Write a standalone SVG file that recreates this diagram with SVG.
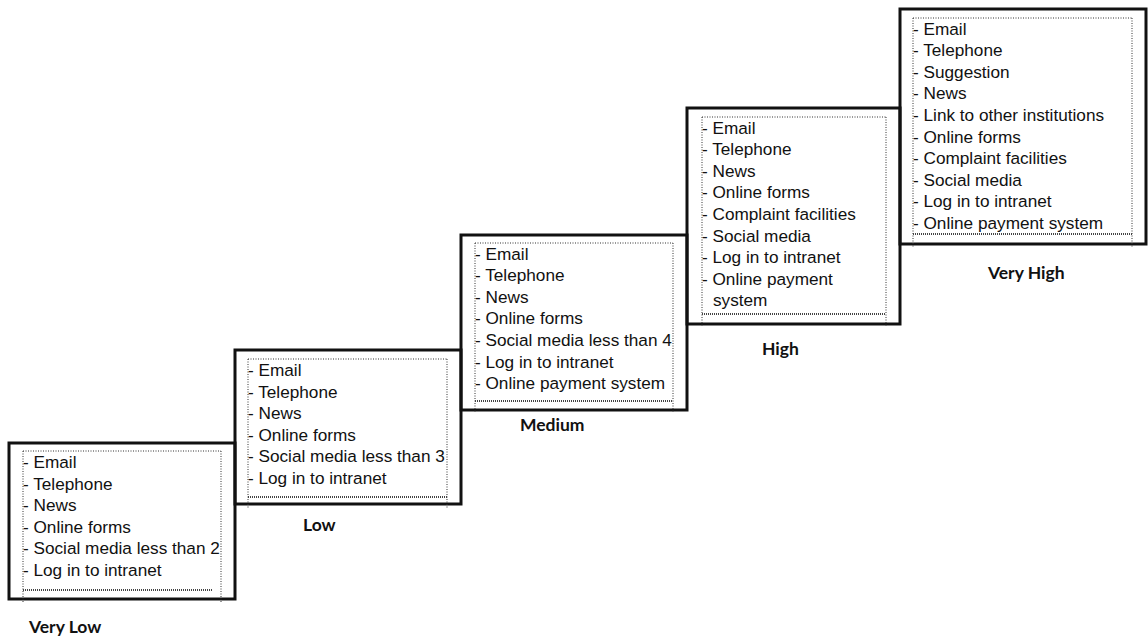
<svg xmlns="http://www.w3.org/2000/svg" width="1148" height="636" viewBox="0 0 1148 636">
<style>
.outer{fill:none;stroke:#111;stroke-width:3}
.dot{fill:none;stroke:#333;stroke-width:1;stroke-dasharray:1 1.5}
.dotb{fill:none;stroke:#444;stroke-width:2;stroke-dasharray:1 1}
.item{font-family:"Liberation Sans",Arial,sans-serif;font-size:17.2px;fill:#111}
.lbl{font-family:Lato,"Open Sans",sans-serif;font-weight:bold;font-size:17.5px;fill:#111}
</style>
<rect width="1148" height="636" fill="#fff"/>
<g id="very-low">
<rect class="outer" x="9" y="443" width="226" height="156"/>
<path class="dot" d="M23 451H221M23 451V603M221 451V603"/>
<path class="dotb" d="M23 590H212"/>
<text class="item" x="23" y="468">- Email</text>
<text class="item" x="23" y="489.6">- Telephone</text>
<text class="item" x="23" y="511.2">- News</text>
<text class="item" x="23" y="532.8">- Online forms</text>
<text class="item" x="23" y="554.4">- Social media less than 2</text>
<text class="item" x="23" y="576">- Log in to intranet</text>
<text class="lbl" x="29" y="633">Very Low</text>
</g>
<g id="low">
<rect class="outer" x="235" y="350" width="226" height="154"/>
<path class="dot" d="M248 359H447M248 359V508M447 359V508"/>
<path class="dotb" d="M248 497H447"/>
<text class="item" x="248" y="376">- Email</text>
<text class="item" x="248" y="397.6">- Telephone</text>
<text class="item" x="248" y="419.2">- News</text>
<text class="item" x="248" y="440.8">- Online forms</text>
<text class="item" x="248" y="462.4">- Social media less than 3</text>
<text class="item" x="248" y="484">- Log in to intranet</text>
<text class="lbl" x="303" y="531">Low</text>
</g>
<g id="medium">
<rect class="outer" x="461" y="235" width="226" height="175"/>
<path class="dot" d="M475 243H673M475 243V413M673 243V413"/>
<path class="dotb" d="M475 401H673"/>
<text class="item" x="475" y="259.5">- Email</text>
<text class="item" x="475" y="281.1">- Telephone</text>
<text class="item" x="475" y="302.7">- News</text>
<text class="item" x="475" y="324.3">- Online forms</text>
<text class="item" x="475" y="345.9">- Social media less than 4</text>
<text class="item" x="475" y="367.5">- Log in to intranet</text>
<text class="item" x="475" y="389.1">- Online payment system</text>
<text class="lbl" x="520" y="431">Medium</text>
</g>
<g id="high">
<rect class="outer" x="687" y="108" width="213" height="216"/>
<path class="dot" d="M702 117H886M702 117V327M886 117V327"/>
<path class="dotb" d="M702 314H886"/>
<text class="item" x="702" y="133.5">- Email</text>
<text class="item" x="702" y="155.1">- Telephone</text>
<text class="item" x="702" y="176.7">- News</text>
<text class="item" x="702" y="198.3">- Online forms</text>
<text class="item" x="702" y="219.9">- Complaint facilities</text>
<text class="item" x="702" y="241.5">- Social media</text>
<text class="item" x="702" y="263.1">- Log in to intranet</text>
<text class="item" x="702" y="284.7">- Online payment</text>
<text class="item" x="713" y="306.3">system</text>
<text class="lbl" x="762" y="355">High</text>
</g>
<g id="very-high">
<rect class="outer" x="900" y="9" width="246" height="235"/>
<path class="dot" d="M913 18H1132M913 18V248M1132 18V248"/>
<path class="dotb" d="M913 234H1132"/>
<text class="item" x="913" y="34.5">- Email</text>
<text class="item" x="913" y="56.1">- Telephone</text>
<text class="item" x="913" y="77.7">- Suggestion</text>
<text class="item" x="913" y="99.3">- News</text>
<text class="item" x="913" y="120.9">- Link to other institutions</text>
<text class="item" x="913" y="142.5">- Online forms</text>
<text class="item" x="913" y="164.1">- Complaint facilities</text>
<text class="item" x="913" y="185.7">- Social media</text>
<text class="item" x="913" y="207.3">- Log in to intranet</text>
<text class="item" x="913" y="228.9">- Online payment system</text>
<text class="lbl" x="988" y="279">Very High</text>
</g>
<g id="connectors"></g>
</svg>
